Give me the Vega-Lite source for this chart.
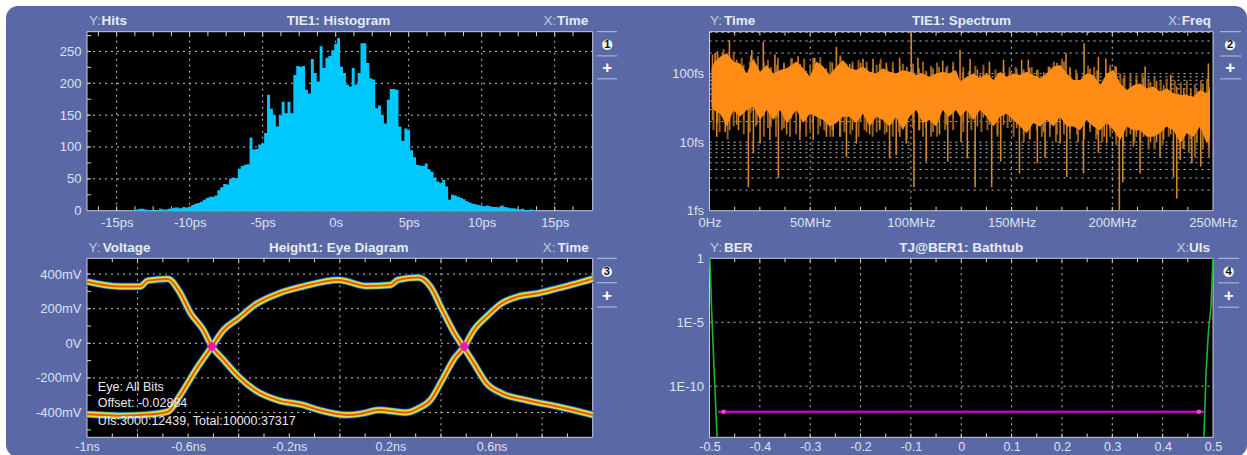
{"$schema":"https://vega.github.io/schema/vega-lite/v6.json","width":1247,"height":455,"padding":0,"autosize":{"type":"none"},"background":"#ffffff","data":{"values":[{"frame":1}]},
"config":{"view":{"stroke":null},"font":"Liberation Sans","text":{"font":"Liberation Sans","baseline":"middle","color":"#e6eaf3","fontSize":13.5},"rule":{"color":"#c4c4c4"},"axis":{"domain":false,"ticks":false,"grid":false,"labelFontSize":13,"labelFont":"Liberation Sans","labelColor":"#dde1ee","labelOverlap":false,"labelFlush":false,"labelBound":false,"labelPadding":6}},
"datasets":{
"hist":[{"t":-14,"h":0},{"t":-13.8,"h":1},{"t":-13.6,"h":2},{"t":-13.4,"h":3},{"t":-13.2,"h":3},{"t":-13,"h":2},{"t":-12.8,"h":1},{"t":-12.6,"h":1},{"t":-12.4,"h":0},{"t":-12.2,"h":1},{"t":-12,"h":3},{"t":-11.8,"h":2},{"t":-11.6,"h":2},{"t":-11.4,"h":3},{"t":-11.2,"h":4},{"t":-11,"h":5},{"t":-10.8,"h":5},{"t":-10.6,"h":4},{"t":-10.4,"h":6},{"t":-10.2,"h":5},{"t":-10,"h":6},{"t":-9.8,"h":9},{"t":-9.6,"h":11},{"t":-9.4,"h":12},{"t":-9.2,"h":14},{"t":-9,"h":17},{"t":-8.8,"h":20},{"t":-8.6,"h":22},{"t":-8.4,"h":22},{"t":-8.2,"h":24},{"t":-8,"h":32},{"t":-7.8,"h":37},{"t":-7.6,"h":42},{"t":-7.4,"h":41},{"t":-7.2,"h":50},{"t":-7,"h":52},{"t":-6.8,"h":51},{"t":-6.6,"h":66},{"t":-6.4,"h":70},{"t":-6.2,"h":72},{"t":-6,"h":73},{"t":-5.8,"h":115},{"t":-5.6,"h":96},{"t":-5.4,"h":97},{"t":-5.2,"h":104},{"t":-5,"h":106},{"t":-4.8,"h":122},{"t":-4.6,"h":182},{"t":-4.4,"h":160},{"t":-4.2,"h":150},{"t":-4,"h":132},{"t":-3.8,"h":149},{"t":-3.6,"h":171},{"t":-3.4,"h":153},{"t":-3.2,"h":171},{"t":-3,"h":153},{"t":-2.8,"h":213},{"t":-2.6,"h":227},{"t":-2.4,"h":226},{"t":-2.2,"h":227},{"t":-2,"h":190},{"t":-1.8,"h":184},{"t":-1.6,"h":238},{"t":-1.4,"h":216},{"t":-1.2,"h":203},{"t":-1,"h":258},{"t":-0.8,"h":224},{"t":-0.6,"h":240},{"t":-0.4,"h":243},{"t":-0.2,"h":252},{"t":0,"h":262},{"t":0.2,"h":271},{"t":0.4,"h":226},{"t":0.6,"h":216},{"t":0.8,"h":198},{"t":1,"h":195},{"t":1.2,"h":224},{"t":1.4,"h":198},{"t":1.6,"h":216},{"t":1.8,"h":263},{"t":2,"h":263},{"t":2.2,"h":232},{"t":2.4,"h":208},{"t":2.6,"h":206},{"t":2.8,"h":161},{"t":3,"h":165},{"t":3.2,"h":150},{"t":3.4,"h":137},{"t":3.6,"h":174},{"t":3.8,"h":191},{"t":4,"h":191},{"t":4.2,"h":190},{"t":4.4,"h":132},{"t":4.6,"h":110},{"t":4.8,"h":129},{"t":5,"h":127},{"t":5.2,"h":95},{"t":5.4,"h":84},{"t":5.6,"h":72},{"t":5.8,"h":71},{"t":6,"h":70},{"t":6.2,"h":74},{"t":6.4,"h":65},{"t":6.6,"h":61},{"t":6.8,"h":52},{"t":7,"h":46},{"t":7.2,"h":44},{"t":7.4,"h":48},{"t":7.6,"h":38},{"t":7.8,"h":17},{"t":8,"h":25},{"t":8.2,"h":24},{"t":8.4,"h":22},{"t":8.6,"h":20},{"t":8.8,"h":18},{"t":9,"h":15},{"t":9.2,"h":13},{"t":9.4,"h":11},{"t":9.6,"h":10},{"t":9.8,"h":9},{"t":10,"h":8},{"t":10.2,"h":7},{"t":10.4,"h":8},{"t":10.6,"h":7},{"t":10.8,"h":6},{"t":11,"h":6},{"t":11.2,"h":5},{"t":11.4,"h":8},{"t":11.6,"h":6},{"t":11.8,"h":5},{"t":12,"h":4},{"t":12.2,"h":4},{"t":12.4,"h":3},{"t":12.6,"h":2},{"t":12.8,"h":3},{"t":13,"h":1},{"t":13.2,"h":1},{"t":13.4,"h":2},{"t":13.6,"h":1},{"t":14,"h":0}],
"band":[{"f":1,"hi":120,"lo":33},{"f":2,"hi":141,"lo":29.5},{"f":5.3,"hi":177,"lo":26},{"f":8.6,"hi":198,"lo":17},{"f":11.9,"hi":150,"lo":29},{"f":15.2,"hi":141,"lo":23.6},{"f":18.5,"hi":101,"lo":29.5},{"f":21.8,"hi":167,"lo":33},{"f":25.1,"hi":107,"lo":21},{"f":28.4,"hi":134,"lo":29.5},{"f":31.7,"hi":101,"lo":21},{"f":35,"hi":113,"lo":29.5},{"f":38.3,"hi":120,"lo":19},{"f":43.2,"hi":150,"lo":29.5},{"f":46.5,"hi":120,"lo":19},{"f":49.8,"hi":90,"lo":26},{"f":53.1,"hi":150,"lo":23.6},{"f":56.4,"hi":127,"lo":21},{"f":59.7,"hi":96,"lo":17},{"f":63,"hi":127,"lo":19},{"f":66.3,"hi":158,"lo":23.6},{"f":69.6,"hi":120,"lo":23.6},{"f":72.9,"hi":113,"lo":19},{"f":76.2,"hi":127,"lo":26},{"f":79.5,"hi":107,"lo":17},{"f":82.8,"hi":101,"lo":23.6},{"f":86.1,"hi":120,"lo":21},{"f":89.4,"hi":107,"lo":17},{"f":92.7,"hi":101,"lo":23.6},{"f":96,"hi":113,"lo":15},{"f":99.3,"hi":107,"lo":23.6},{"f":102.6,"hi":96,"lo":29.5},{"f":105.9,"hi":101,"lo":19},{"f":109.2,"hi":90,"lo":21},{"f":112.5,"hi":101,"lo":17},{"f":115.8,"hi":107,"lo":29.5},{"f":119,"hi":101,"lo":23.6},{"f":122.4,"hi":113,"lo":29.5},{"f":124.4,"hi":76,"lo":23.6},{"f":127.7,"hi":90,"lo":29.5},{"f":131,"hi":101,"lo":21},{"f":134.3,"hi":86,"lo":29.5},{"f":137.6,"hi":101,"lo":23.6},{"f":141,"hi":81,"lo":17},{"f":144.3,"hi":107,"lo":23.6},{"f":147.6,"hi":90,"lo":26},{"f":150.9,"hi":101,"lo":21},{"f":154.2,"hi":96,"lo":17},{"f":157.5,"hi":107,"lo":13.5},{"f":160.8,"hi":96,"lo":19},{"f":164.1,"hi":86,"lo":17},{"f":167.4,"hi":101,"lo":21},{"f":170.8,"hi":127,"lo":17},{"f":174.1,"hi":134,"lo":23.6},{"f":177.4,"hi":101,"lo":17},{"f":180.7,"hi":81,"lo":17},{"f":184,"hi":81,"lo":15},{"f":187.3,"hi":101,"lo":21},{"f":190.6,"hi":96,"lo":17},{"f":194,"hi":68,"lo":15},{"f":197.2,"hi":101,"lo":19},{"f":200.6,"hi":113,"lo":15},{"f":203.9,"hi":72,"lo":10.8},{"f":207.2,"hi":58,"lo":17},{"f":210.5,"hi":68,"lo":15},{"f":213.8,"hi":72,"lo":15},{"f":217.1,"hi":61,"lo":12},{"f":220.4,"hi":65,"lo":12},{"f":223.7,"hi":55,"lo":13.5},{"f":227,"hi":61,"lo":17},{"f":230.4,"hi":52,"lo":15},{"f":233.7,"hi":49,"lo":9.6},{"f":237,"hi":49,"lo":13.5},{"f":240.3,"hi":46,"lo":12},{"f":243.6,"hi":58,"lo":17},{"f":246.9,"hi":52,"lo":9.6},{"f":248.5,"hi":60,"lo":12}],
"edge":[{"f":1.5,"a":190,"b":21},{"f":4,"a":215,"b":19},{"f":6.5,"a":200,"b":24},{"f":10,"a":175,"b":15},{"f":13.5,"a":160,"b":18},{"f":17,"a":135,"b":21},{"f":20.5,"a":185,"b":27},{"f":23.5,"a":130,"b":18},{"f":27,"a":150,"b":24},{"f":30.5,"a":125,"b":17},{"f":33.5,"a":135,"b":23},{"f":37,"a":140,"b":16},{"f":40.5,"a":165,"b":22},{"f":45,"a":140,"b":15},{"f":48,"a":110,"b":20},{"f":51.5,"a":170,"b":19},{"f":55,"a":145,"b":17},{"f":58,"a":120,"b":14},{"f":61,"a":145,"b":15},{"f":65,"a":175,"b":19},{"f":68,"a":140,"b":18},{"f":71,"a":135,"b":15},{"f":75,"a":145,"b":20},{"f":78,"a":125,"b":14},{"f":81,"a":120,"b":18},{"f":84.5,"a":140,"b":16},{"f":88,"a":125,"b":14},{"f":91,"a":120,"b":18},{"f":94.5,"a":130,"b":12},{"f":98,"a":125,"b":18},{"f":101,"a":115,"b":23},{"f":104,"a":120,"b":15},{"f":107.5,"a":110,"b":16},{"f":111,"a":120,"b":14},{"f":114,"a":125,"b":22},{"f":117.5,"a":120,"b":18},{"f":121,"a":130,"b":23},{"f":126,"a":105,"b":20},{"f":129,"a":110,"b":22},{"f":133,"a":115,"b":17},{"f":136,"a":105,"b":23},{"f":139,"a":115,"b":18},{"f":143,"a":100,"b":13},{"f":146,"a":125,"b":18},{"f":149,"a":108,"b":20},{"f":152.5,"a":118,"b":16},{"f":156,"a":115,"b":13},{"f":159,"a":122,"b":11},{"f":162.5,"a":112,"b":15},{"f":166,"a":105,"b":14},{"f":169,"a":125,"b":16},{"f":172.5,"a":145,"b":13},{"f":176,"a":150,"b":18},{"f":179,"a":118,"b":14},{"f":182.5,"a":100,"b":13},{"f":186,"a":98,"b":12},{"f":189,"a":118,"b":16},{"f":192.5,"a":112,"b":13},{"f":196,"a":85,"b":12},{"f":199,"a":118,"b":15},{"f":202,"a":125,"b":12},{"f":205.5,"a":85,"b":9},{"f":209,"a":72,"b":13},{"f":212,"a":82,"b":12},{"f":215.5,"a":86,"b":12},{"f":219,"a":75,"b":10},{"f":222,"a":78,"b":10},{"f":225.5,"a":68,"b":11},{"f":229,"a":74,"b":13},{"f":232,"a":65,"b":12},{"f":235.5,"a":62,"b":8},{"f":239,"a":60,"b":11},{"f":242,"a":58,"b":10},{"f":245,"a":70,"b":13},{"f":248,"a":66,"b":8}],
"bright":[{"f":19.3,"tip":2.2},{"f":34.2,"tip":3},{"f":68,"tip":6.1},{"f":89.4,"tip":5.8},{"f":101.5,"tip":2.2},{"f":107.6,"tip":5.2},{"f":118.3,"tip":5.2},{"f":21.8,"tip":6.9},{"f":44.9,"tip":10.8},{"f":72.9,"tip":9.6},{"f":3.6,"tip":12},{"f":7.8,"tip":14},{"f":14.4,"tip":15},{"f":25.1,"tip":9.6},{"f":30,"tip":10.8},{"f":38.3,"tip":13},{"f":51.5,"tip":10.8},{"f":58.1,"tip":12},{"f":61.4,"tip":12},{"f":64.7,"tip":12},{"f":79.5,"tip":13},{"f":84.5,"tip":15},{"f":92.7,"tip":6.5},{"f":97.7,"tip":9.6},{"f":104.3,"tip":15},{"f":114.2,"tip":13},{"f":124.9,"tip":10},{"f":128,"tip":5.8},{"f":131.9,"tip":2.2},{"f":140.1,"tip":2.2},{"f":144.6,"tip":5.2},{"f":153.9,"tip":3.5},{"f":162.8,"tip":4.9},{"f":166.6,"tip":6},{"f":177.4,"tip":3.1},{"f":185.7,"tip":3.5},{"f":193.1,"tip":7},{"f":203.5,"tip":1.02},{"f":205.2,"tip":2.6},{"f":213.8,"tip":3.5},{"f":223.7,"tip":6},{"f":230.4,"tip":3.1},{"f":232,"tip":1.5},{"f":233.7,"tip":5.5},{"f":239.5,"tip":4.9},{"f":243.9,"tip":4.4},{"f":247.7,"tip":9.6},{"f":210.5,"tip":8.6},{"f":197.2,"tip":9.6},{"f":174.1,"tip":9.6},{"f":9.9,"tip":310},{"f":26.7,"tip":290},{"f":63,"tip":247},{"f":100.2,"tip":410},{"f":2.8,"tip":200},{"f":21,"tip":221},{"f":32.5,"tip":190},{"f":44,"tip":180},{"f":52.3,"tip":170},{"f":69.6,"tip":140},{"f":76.2,"tip":165},{"f":94.4,"tip":170},{"f":103.5,"tip":170},{"f":115.8,"tip":155},{"f":81.2,"tip":165},{"f":87.8,"tip":145},{"f":186,"tip":277},{"f":124.4,"tip":221},{"f":129.4,"tip":165},{"f":139,"tip":150},{"f":146,"tip":160},{"f":158.3,"tip":160},{"f":168.3,"tip":127},{"f":177,"tip":198},{"f":193.1,"tip":177},{"f":196.8,"tip":167},{"f":201.4,"tip":130},{"f":216.3,"tip":127},{"f":229,"tip":96},{"f":247.7,"tip":141},{"f":155,"tip":160},{"f":134.3,"tip":96}],
"dim":[{"f":4,"tip":190},{"f":7,"tip":230},{"f":12,"tip":210},{"f":16,"tip":170},{"f":20,"tip":150},{"f":24,"tip":180},{"f":29,"tip":160},{"f":34,"tip":170},{"f":37,"tip":145},{"f":41,"tip":170},{"f":47,"tip":165},{"f":50,"tip":135},{"f":55,"tip":175},{"f":60,"tip":150},{"f":65,"tip":185},{"f":71,"tip":150},{"f":74,"tip":160},{"f":78,"tip":150},{"f":83,"tip":135},{"f":85,"tip":165},{"f":91,"tip":150},{"f":96,"tip":140},{"f":101,"tip":140},{"f":106,"tip":150},{"f":110,"tip":130},{"f":113,"tip":145},{"f":118,"tip":130},{"f":121,"tip":150},{"f":126,"tip":125},{"f":132,"tip":130},{"f":136,"tip":135},{"f":142,"tip":115},{"f":149,"tip":125},{"f":152,"tip":125},{"f":160,"tip":125},{"f":163,"tip":115},{"f":171,"tip":150},{"f":175,"tip":165},{"f":179,"tip":125},{"f":182,"tip":115},{"f":188,"tip":130},{"f":191,"tip":125},{"f":199,"tip":135},{"f":204,"tip":100},{"f":206,"tip":95},{"f":209,"tip":100},{"f":212,"tip":95},{"f":215,"tip":100},{"f":218,"tip":85},{"f":221,"tip":90},{"f":224,"tip":80},{"f":227,"tip":85},{"f":231,"tip":80},{"f":234,"tip":75},{"f":237,"tip":80},{"f":241,"tip":70},{"f":244,"tip":80},{"f":247,"tip":85},
{"f":2,"tip":15},{"f":5,"tip":14},{"f":9,"tip":11},{"f":12,"tip":17},{"f":17,"tip":13},{"f":20,"tip":14},{"f":23,"tip":17},{"f":27,"tip":12},{"f":29,"tip":16},{"f":33,"tip":12},{"f":36,"tip":15},{"f":40,"tip":12},{"f":43,"tip":13},{"f":48,"tip":12},{"f":50,"tip":15},{"f":54,"tip":13},{"f":57,"tip":15},{"f":60,"tip":12},{"f":65,"tip":12},{"f":67,"tip":14},{"f":70,"tip":13},{"f":74,"tip":12},{"f":77,"tip":15},{"f":81,"tip":12},{"f":83,"tip":14},{"f":87,"tip":13},{"f":91,"tip":12},{"f":94,"tip":14},{"f":98,"tip":11},{"f":101,"tip":16},{"f":106,"tip":12},{"f":110,"tip":12},{"f":113,"tip":12},{"f":117,"tip":15},{"f":121,"tip":15},{"f":126,"tip":14},{"f":130,"tip":15},{"f":135,"tip":14},{"f":138,"tip":15},{"f":143,"tip":12},{"f":148,"tip":16},{"f":151,"tip":12},{"f":156,"tip":10},{"f":159,"tip":11},{"f":165,"tip":12},{"f":169,"tip":12},{"f":172,"tip":10},{"f":176,"tip":13},{"f":179,"tip":11},{"f":183,"tip":10},{"f":186,"tip":11},{"f":189,"tip":14},{"f":192,"tip":11},{"f":195,"tip":10},{"f":199,"tip":12},{"f":202,"tip":9},{"f":207,"tip":12},{"f":211,"tip":10},{"f":214,"tip":10},{"f":218,"tip":8},{"f":221,"tip":8},{"f":225,"tip":9},{"f":228,"tip":12},{"f":235,"tip":8},{"f":238,"tip":7},{"f":241,"tip":6},{"f":245,"tip":8},{"f":248,"tip":6}],
"eye":[{"t":-1,"v":356,"s":"a"},{"t":-0.87,"v":328,"s":"a"},{"t":-0.79,"v":328,"s":"a"},{"t":-0.76,"v":362,"s":"a"},{"t":-0.68,"v":372,"s":"a"},{"t":-0.635,"v":299,"s":"a"},{"t":-0.59,"v":173,"s":"a"},{"t":-0.54,"v":77,"s":"a"},{"t":-0.506,"v":-19,"s":"a"},{"t":-0.46,"v":-96,"s":"a"},{"t":-0.4,"v":-193,"s":"a"},{"t":-0.336,"v":-270,"s":"a"},{"t":-0.24,"v":-331,"s":"a"},{"t":-0.147,"v":-356,"s":"a"},{"t":-0.084,"v":-385,"s":"a"},{"t":0.027,"v":-414,"s":"a"},{"t":0.09,"v":-405,"s":"a"},{"t":0.153,"v":-385,"s":"a"},{"t":0.263,"v":-400,"s":"a"},{"t":0.31,"v":-376,"s":"a"},{"t":0.358,"v":-328,"s":"a"},{"t":0.405,"v":-212,"s":"a"},{"t":0.453,"v":-87,"s":"a"},{"t":0.492,"v":-19,"s":"a"},{"t":0.53,"v":77,"s":"a"},{"t":0.58,"v":154,"s":"a"},{"t":0.64,"v":231,"s":"a"},{"t":0.705,"v":270,"s":"a"},{"t":0.784,"v":289,"s":"a"},{"t":0.863,"v":318,"s":"a"},{"t":0.94,"v":347,"s":"a"},{"t":1,"v":372,"s":"a"},
{"t":-1,"v":-410,"s":"b"},{"t":-0.87,"v":-418,"s":"b"},{"t":-0.76,"v":-412,"s":"b"},{"t":-0.68,"v":-395,"s":"b"},{"t":-0.635,"v":-308,"s":"b"},{"t":-0.57,"v":-154,"s":"b"},{"t":-0.506,"v":-19,"s":"b"},{"t":-0.46,"v":77,"s":"b"},{"t":-0.4,"v":145,"s":"b"},{"t":-0.336,"v":222,"s":"b"},{"t":-0.24,"v":289,"s":"b"},{"t":-0.147,"v":328,"s":"b"},{"t":-0.005,"v":366,"s":"b"},{"t":0.106,"v":331,"s":"b"},{"t":0.2,"v":337,"s":"b"},{"t":0.23,"v":366,"s":"b"},{"t":0.31,"v":380,"s":"b"},{"t":0.358,"v":328,"s":"b"},{"t":0.405,"v":193,"s":"b"},{"t":0.453,"v":58,"s":"b"},{"t":0.492,"v":-29,"s":"b"},{"t":0.53,"v":-116,"s":"b"},{"t":0.58,"v":-231,"s":"b"},{"t":0.64,"v":-289,"s":"b"},{"t":0.736,"v":-328,"s":"b"},{"t":0.863,"v":-366,"s":"b"},{"t":1,"v":-414,"s":"b"}],
"tub":[{"u":-0.4995,"b":1,"s":"l"},{"u":-0.4984,"b":0.12,"s":"l"},{"u":-0.496,"b":0.00016,"s":"l"},{"u":-0.493,"b":2.2e-7,"s":"l"},{"u":-0.49,"b":2.8e-10,"s":"l"},{"u":-0.485,"b":1e-14,"s":"l"},{"u":0.5,"b":1,"s":"r"},{"u":0.496,"b":0.00016,"s":"r"},{"u":0.491,"b":2e-6,"s":"r"},{"u":0.486,"b":8e-10,"s":"r"},{"u":0.482,"b":1e-14,"s":"r"}]
},
"layer":[
{"mark":{"type":"rect","fill":"#5a69a5","cornerRadius":12},"encoding":{"x":{"datum":0,"scale":{"domain":[0,1],"range":[6,1247]},"axis":null},"x2":{"datum":1},"y":{"datum":0,"scale":{"domain":[0,1],"range":[6,457]},"axis":null},"y2":{"datum":1}}},

{"resolve":{"axis":{"x":"independent","y":"independent"}},"encoding":{"x":{"type":"quantitative","scale":{"domain":[-17.03,17.6],"range":[87,592.7],"nice":false},"axis":null},"y":{"type":"quantitative","scale":{"domain":[0,281],"range":[210.7,31.7],"nice":false},"axis":null}},
"layer":[
{"mark":{"type":"rect","fill":"#000000","stroke":"#c9cde0","strokeWidth":1},"encoding":{"x":{"datum":-17.03,"axis":{"title":null,"zindex":1,"offset":-244.3,"orient":"bottom","values":[-15,-10,-5,0,5,10,15],"labelExpr":"datum.value==0?'0s':datum.value+'ps'"}},"x2":{"datum":17.6},"y":{"datum":0,"axis":{"title":null,"zindex":1,"offset":-87,"orient":"left","values":[0,50,100,150,200,250],"labelExpr":"datum.value+''"}},"y2":{"datum":281}}},
{"data":{"values":[-15,-10,-5,0,5,10,15]},"mark":{"type":"rule","strokeDash":[2,4]},"encoding":{"x":{"field":"data"},"y":{"datum":0},"y2":{"datum":281}}},
{"data":{"values":[50,100,150,200,250]},"mark":{"type":"rule","strokeDash":[2,4]},"encoding":{"y":{"field":"data"},"x":{"datum":-17.03},"x2":{"datum":17.6}}},
{"data":{"values":[-16.25,-15,-13.75,-12.5,-11.25,-10,-8.75,-7.5,-6.25,-5,-3.75,-2.5,-1.25,0,1.25,2.5,3.75,5,6.25,7.5,8.75,10,11.25,12.5,13.75,15,16.25]},"mark":{"type":"rule","color":"#d4d4d4"},"encoding":{"x":{"field":"data"},"y":{"datum":281},"y2":{"datum":274}}},
{"data":{"values":[-16.25,-15,-13.75,-12.5,-11.25,-10,-8.75,-7.5,-6.25,-5,-3.75,-2.5,-1.25,0,1.25,2.5,3.75,5,6.25,7.5,8.75,10,11.25,12.5,13.75,15,16.25]},"mark":{"type":"rule","color":"#d4d4d4"},"encoding":{"x":{"field":"data"},"y":{"datum":0},"y2":{"datum":7}}},
{"data":{"values":[25,50,75,100,125,150,175,200,225,250,275]},"mark":{"type":"rule","color":"#d4d4d4"},"encoding":{"y":{"field":"data"},"x":{"datum":-17.03},"x2":{"datum":-16.75}}},
{"data":{"name":"hist"},"mark":{"type":"area","interpolate":"step","color":"#00c8ff"},"encoding":{"x":{"field":"t"},"y":{"field":"h","stack":null}}},
{"mark":{"type":"text","align":"left","text":"Y:","color":"#c3cadf"},"encoding":{"x":{"datum":-16.9},"y":{"datum":298}}},
{"mark":{"type":"text","align":"left","text":"Hits","fontWeight":"bold"},"encoding":{"x":{"datum":-16.03},"y":{"datum":298}}},
{"mark":{"type":"text","align":"center","text":"TIE1: Histogram","fontWeight":"bold"},"encoding":{"x":{"datum":0.2},"y":{"datum":298}}},
{"mark":{"type":"text","align":"right","text":"X:","color":"#c3cadf"},"encoding":{"x":{"datum":15.1},"y":{"datum":298}}},
{"mark":{"type":"text","align":"right","text":"Time","fontWeight":"bold"},"encoding":{"x":{"datum":17.3},"y":{"datum":298}}},
{"data":{"values":[281,243,207]},"mark":{"type":"rule","color":"#b9c1d9"},"encoding":{"y":{"field":"data"},"x":{"datum":17.9},"x2":{"datum":19.27}}},
{"mark":{"type":"point","filled":true,"color":"#f2f2f2","opacity":1,"size":110},"encoding":{"x":{"datum":18.6},"y":{"datum":260.5}}},
{"mark":{"type":"text","text":"1","color":"#111111","fontWeight":"bold","fontSize":11},"encoding":{"x":{"datum":18.6},"y":{"datum":260.5}}},
{"mark":{"type":"text","text":"+","color":"#ffffff","fontWeight":"bold","fontSize":17},"encoding":{"x":{"datum":18.6},"y":{"datum":224}}}
]},

{"resolve":{"axis":{"x":"independent","y":"independent"}},"encoding":{"x":{"type":"quantitative","scale":{"domain":[0,250],"range":[709.5,1213],"nice":false},"axis":null},"y":{"type":"quantitative","scale":{"type":"log","domain":[1,410],"range":[210.7,31.7],"nice":false},"axis":null}},
"layer":[
{"mark":{"type":"rect","fill":"#000000","stroke":"#c9cde0","strokeWidth":1},"encoding":{"x":{"datum":0,"axis":{"title":null,"zindex":1,"offset":-244.3,"orient":"bottom","values":[0,50,100,150,200,250],"labelExpr":"datum.value==0?'0Hz':datum.value+'MHz'"}},"x2":{"datum":250},"y":{"datum":1,"axis":{"title":null,"zindex":1,"offset":-709.5,"orient":"left","values":[1,10,100],"labelExpr":"datum.value+'fs'"}},"y2":{"datum":410}}},
{"data":{"values":[50,100,150,200]},"mark":{"type":"rule","strokeDash":[2,4]},"encoding":{"x":{"field":"data"},"y":{"datum":1},"y2":{"datum":410}}},
{"data":{"values":[2,3,4,5,6,7,8,9,10,20,30,40,50,60,70,80,90,100,200,300,400]},"mark":{"type":"rule","strokeDash":[2,4]},"encoding":{"y":{"field":"data"},"x":{"datum":0},"x2":{"datum":250}}},
{"data":{"values":[12.5,25,37.5,50,62.5,75,87.5,100,112.5,125,137.5,150,162.5,175,187.5,200,212.5,225,237.5]},"mark":{"type":"rule","color":"#d4d4d4"},"encoding":{"x":{"field":"data"},"y":{"datum":410},"y2":{"datum":359}}},
{"data":{"values":[12.5,25,37.5,50,62.5,75,87.5,100,112.5,125,137.5,150,162.5,175,187.5,200,212.5,225,237.5]},"mark":{"type":"rule","color":"#d4d4d4"},"encoding":{"x":{"field":"data"},"y":{"datum":1},"y2":{"datum":1.14}}},
{"data":{"name":"dim"},"mark":{"type":"rule","color":"#94601f","strokeWidth":2},"encoding":{"x":{"field":"f"},"y":{"field":"tip"},"y2":{"datum":40}}},
{"data":{"name":"edge"},"mark":{"type":"rule","color":"#c4781f","strokeWidth":1.6},"encoding":{"x":{"field":"f"},"y":{"field":"a"},"y2":{"field":"b"}}},
{"data":{"name":"bright"},"mark":{"type":"rule","color":"#cf8430","strokeWidth":1.6},"encoding":{"x":{"field":"f"},"y":{"field":"tip"},"y2":{"datum":40}}},
{"data":{"name":"band"},"mark":{"type":"area","color":"#ff8c14"},"encoding":{"x":{"field":"f"},"y":{"field":"hi","stack":null},"y2":{"field":"lo"}}},
{"mark":{"type":"text","align":"left","text":"Y:","color":"#c3cadf"},"encoding":{"x":{"datum":0.3},"y":{"datum":589}}},
{"mark":{"type":"text","align":"left","text":"Time","fontWeight":"bold"},"encoding":{"x":{"datum":7.2},"y":{"datum":589}}},
{"mark":{"type":"text","align":"center","text":"TIE1: Spectrum","fontWeight":"bold"},"encoding":{"x":{"datum":125.1},"y":{"datum":589}}},
{"mark":{"type":"text","align":"right","text":"X:","color":"#c3cadf"},"encoding":{"x":{"datum":234},"y":{"datum":589}}},
{"mark":{"type":"text","align":"right","text":"Freq","fontWeight":"bold"},"encoding":{"x":{"datum":249},"y":{"datum":589}}},
{"data":{"values":[410,181,84]},"mark":{"type":"rule","color":"#b9c1d9"},"encoding":{"y":{"field":"data"},"x":{"datum":253.5},"x2":{"datum":264}}},
{"mark":{"type":"point","filled":true,"color":"#f2f2f2","opacity":1,"size":110},"encoding":{"x":{"datum":258.5},"y":{"datum":262}}},
{"mark":{"type":"text","text":"2","color":"#111111","fontWeight":"bold","fontSize":11},"encoding":{"x":{"datum":258.5},"y":{"datum":262}}},
{"mark":{"type":"text","text":"+","color":"#ffffff","fontWeight":"bold","fontSize":17},"encoding":{"x":{"datum":258.5},"y":{"datum":121}}}
]},

{"resolve":{"axis":{"x":"independent","y":"independent"}},"encoding":{"x":{"type":"quantitative","scale":{"domain":[-1,1],"range":[87,592.7],"nice":false},"axis":null},"y":{"type":"quantitative","scale":{"domain":[-543,491],"range":[437.3,258.3],"nice":false},"axis":null}},
"layer":[
{"mark":{"type":"rect","fill":"#000000","stroke":"#c9cde0","strokeWidth":1},"encoding":{"x":{"datum":-1,"axis":{"title":null,"zindex":1,"offset":-17.7,"orient":"bottom","labelPadding":3,"labelFontSize":12.5,"values":[-1,-0.6,-0.2,0.2,0.6],"labelExpr":"datum.value+'ns'"}},"x2":{"datum":1},"y":{"datum":-543,"axis":{"title":null,"zindex":1,"offset":-87,"orient":"left","values":[-400,-200,0,200,400],"labelExpr":"datum.value==0?'0V':datum.value+'mV'"}},"y2":{"datum":491}}},
{"data":{"values":[-0.8,-0.4,0,0.4,0.8]},"mark":{"type":"rule","strokeDash":[2,4]},"encoding":{"x":{"field":"data"},"y":{"datum":-543},"y2":{"datum":491}}},
{"data":{"values":[-400,-200,0,200,400]},"mark":{"type":"rule","strokeDash":[2,4]},"encoding":{"y":{"field":"data"},"x":{"datum":-1},"x2":{"datum":1}}},
{"data":{"values":[-0.9,-0.8,-0.7,-0.6,-0.5,-0.4,-0.3,-0.2,-0.1,0,0.1,0.2,0.3,0.4,0.5,0.6,0.7,0.8,0.9]},"mark":{"type":"rule","color":"#d4d4d4"},"encoding":{"x":{"field":"data"},"y":{"datum":491},"y2":{"datum":468}}},
{"data":{"values":[-0.9,-0.8,-0.7,-0.6,-0.5,-0.4,-0.3,-0.2,-0.1,0,0.1,0.2,0.3,0.4,0.5,0.6,0.7,0.8,0.9]},"mark":{"type":"rule","color":"#d4d4d4"},"encoding":{"x":{"field":"data"},"y":{"datum":-543},"y2":{"datum":-520}}},
{"data":{"values":[-500,-400,-300,-200,-100,0,100,200,300,400]},"mark":{"type":"rule","color":"#d4d4d4"},"encoding":{"y":{"field":"data"},"x":{"datum":-1},"x2":{"datum":-0.984}}},
{"data":{"name":"eye"},"mark":{"type":"line","color":"#1226b0","strokeWidth":8,"interpolate":"monotone"},"encoding":{"x":{"field":"t"},"y":{"field":"v"},"detail":{"field":"s"}}},
{"data":{"name":"eye"},"mark":{"type":"line","color":"#1cc09a","strokeWidth":6.4,"interpolate":"monotone"},"encoding":{"x":{"field":"t"},"y":{"field":"v"},"detail":{"field":"s"}}},
{"data":{"name":"eye"},"mark":{"type":"line","color":"#ecd92e","strokeWidth":5.4,"interpolate":"monotone"},"encoding":{"x":{"field":"t"},"y":{"field":"v"},"detail":{"field":"s"}}},
{"data":{"name":"eye"},"mark":{"type":"line","color":"#e2571e","strokeWidth":2,"interpolate":"monotone"},"encoding":{"x":{"field":"t"},"y":{"field":"v"},"detail":{"field":"s"}}},
{"data":{"values":[{"t":-0.506,"v":-19},{"t":0.492,"v":-19}]},"mark":{"type":"point","filled":true,"shape":"diamond","opacity":1,"color":"#f012c8","size":110},"encoding":{"x":{"field":"t"},"y":{"field":"v"}}},
{"mark":{"type":"text","align":"left","text":"Eye: All Bits","fontSize":12.5},"encoding":{"x":{"datum":-0.957},"y":{"datum":-253}}},
{"mark":{"type":"text","align":"left","text":"Offset: -0.02884","fontSize":12.5},"encoding":{"x":{"datum":-0.957},"y":{"datum":-345}}},
{"mark":{"type":"text","align":"left","text":"UIs:3000:12439, Total:10000:37317","fontSize":12.5},"encoding":{"x":{"datum":-0.957},"y":{"datum":-449}}},
{"mark":{"type":"text","align":"left","text":"Y:","color":"#c3cadf"},"encoding":{"x":{"datum":-0.994},"y":{"datum":551}}},
{"mark":{"type":"text","align":"left","text":"Voltage","fontWeight":"bold"},"encoding":{"x":{"datum":-0.9375},"y":{"datum":551}}},
{"mark":{"type":"text","align":"center","text":"Height1: Eye Diagram","fontWeight":"bold"},"encoding":{"x":{"datum":-0.004},"y":{"datum":551}}},
{"mark":{"type":"text","align":"right","text":"X:","color":"#c3cadf"},"encoding":{"x":{"datum":0.853},"y":{"datum":551}}},
{"mark":{"type":"text","align":"right","text":"Time","fontWeight":"bold"},"encoding":{"x":{"datum":0.984},"y":{"datum":551}}},
{"data":{"values":[491,350,210]},"mark":{"type":"rule","color":"#b9c1d9"},"encoding":{"y":{"field":"data"},"x":{"datum":1.017},"x2":{"datum":1.096}}},
{"mark":{"type":"point","filled":true,"color":"#f2f2f2","opacity":1,"size":110},"encoding":{"x":{"datum":1.056},"y":{"datum":414}}},
{"mark":{"type":"text","text":"3","color":"#111111","fontWeight":"bold","fontSize":11},"encoding":{"x":{"datum":1.056},"y":{"datum":414}}},
{"mark":{"type":"text","text":"+","color":"#ffffff","fontWeight":"bold","fontSize":17},"encoding":{"x":{"datum":1.056},"y":{"datum":273}}}
]},

{"resolve":{"axis":{"x":"independent","y":"independent"}},"encoding":{"x":{"type":"quantitative","scale":{"domain":[-0.5,0.5],"range":[709.5,1213],"nice":false},"axis":null},"y":{"type":"quantitative","scale":{"type":"log","domain":[1e-14,1],"range":[437.3,258.3],"nice":false},"axis":null}},
"layer":[
{"mark":{"type":"rect","fill":"#000000","stroke":"#c9cde0","strokeWidth":1},"encoding":{"x":{"datum":-0.5,"axis":{"title":null,"zindex":1,"offset":-17.7,"orient":"bottom","labelPadding":3,"labelFontSize":12.5,"values":[-0.5,-0.4,-0.3,-0.2,-0.1,0,0.1,0.2,0.3,0.4,0.5],"labelExpr":"datum.value+''"}},"x2":{"datum":0.5},"y":{"datum":1e-14,"axis":{"title":null,"zindex":1,"offset":-709.5,"orient":"left","values":[1,1e-5,1e-10],"labelExpr":"datum.value==1?'1':(datum.value>1e-6?'1E-5':'1E-10')"}},"y2":{"datum":1}}},
{"data":{"values":[-0.4,-0.3,-0.2,-0.1,0,0.1,0.2,0.3,0.4]},"mark":{"type":"rule","strokeDash":[2,4]},"encoding":{"x":{"field":"data"},"y":{"datum":1e-14},"y2":{"datum":1}}},
{"data":{"values":[1e-5,1e-10]},"mark":{"type":"rule","strokeDash":[2,4]},"encoding":{"y":{"field":"data"},"x":{"datum":-0.5},"x2":{"datum":0.5}}},
{"data":{"values":[-0.45,-0.4,-0.35,-0.3,-0.25,-0.2,-0.15,-0.1,-0.05,0,0.05,0.1,0.15,0.2,0.25,0.3,0.35,0.4,0.45]},"mark":{"type":"rule","color":"#d4d4d4"},"encoding":{"x":{"field":"data"},"y":{"datum":1},"y2":{"datum":0.49}}},
{"data":{"values":[-0.45,-0.4,-0.35,-0.3,-0.25,-0.2,-0.15,-0.1,-0.05,0,0.05,0.1,0.15,0.2,0.25,0.3,0.35,0.4,0.45]},"mark":{"type":"rule","color":"#d4d4d4"},"encoding":{"x":{"field":"data"},"y":{"datum":1e-14},"y2":{"datum":2e-14}}},
{"data":{"name":"tub"},"mark":{"type":"line","color":"#1fb52e","strokeWidth":1.6},"encoding":{"x":{"field":"u"},"y":{"field":"b"},"detail":{"field":"s"}}},
{"mark":{"type":"rule","color":"#b00fb0","strokeWidth":2.4},"encoding":{"x":{"datum":-0.483},"x2":{"datum":0.483},"y":{"datum":1e-12}}},
{"data":{"values":[{"u":-0.472,"b":1e-12},{"u":0.472,"b":1e-12}]},"mark":{"type":"point","filled":true,"opacity":1,"color":"#f040e0","size":22},"encoding":{"x":{"field":"u"},"y":{"field":"b"}}},
{"mark":{"type":"text","align":"left","text":"Y:","color":"#c3cadf"},"encoding":{"x":{"datum":-0.499},"y":{"datum":6.4}}},
{"mark":{"type":"text","align":"left","text":"BER","fontWeight":"bold"},"encoding":{"x":{"datum":-0.471},"y":{"datum":6.4}}},
{"mark":{"type":"text","align":"center","text":"TJ@BER1: Bathtub","fontWeight":"bold"},"encoding":{"x":{"datum":0},"y":{"datum":6.4}}},
{"mark":{"type":"text","align":"right","text":"X:","color":"#c3cadf"},"encoding":{"x":{"datum":0.453},"y":{"datum":6.4}}},
{"mark":{"type":"text","align":"right","text":"UIs","fontWeight":"bold"},"encoding":{"x":{"datum":0.494},"y":{"datum":6.4}}},
{"data":{"values":[1,0.012,0.00015]},"mark":{"type":"rule","color":"#b9c1d9"},"encoding":{"y":{"field":"data"},"x":{"datum":0.51},"x2":{"datum":0.552}}},
{"mark":{"type":"point","filled":true,"color":"#f2f2f2","opacity":1,"size":110},"encoding":{"x":{"datum":0.531},"y":{"datum":0.089}}},
{"mark":{"type":"text","text":"4","color":"#111111","fontWeight":"bold","fontSize":11},"encoding":{"x":{"datum":0.531},"y":{"datum":0.089}}},
{"mark":{"type":"text","text":"+","color":"#ffffff","fontWeight":"bold","fontSize":17},"encoding":{"x":{"datum":0.531},"y":{"datum":0.0011}}}
]}
],
"resolve":{"scale":{"x":"independent","y":"independent"},"axis":{"x":"independent","y":"independent"}}}
